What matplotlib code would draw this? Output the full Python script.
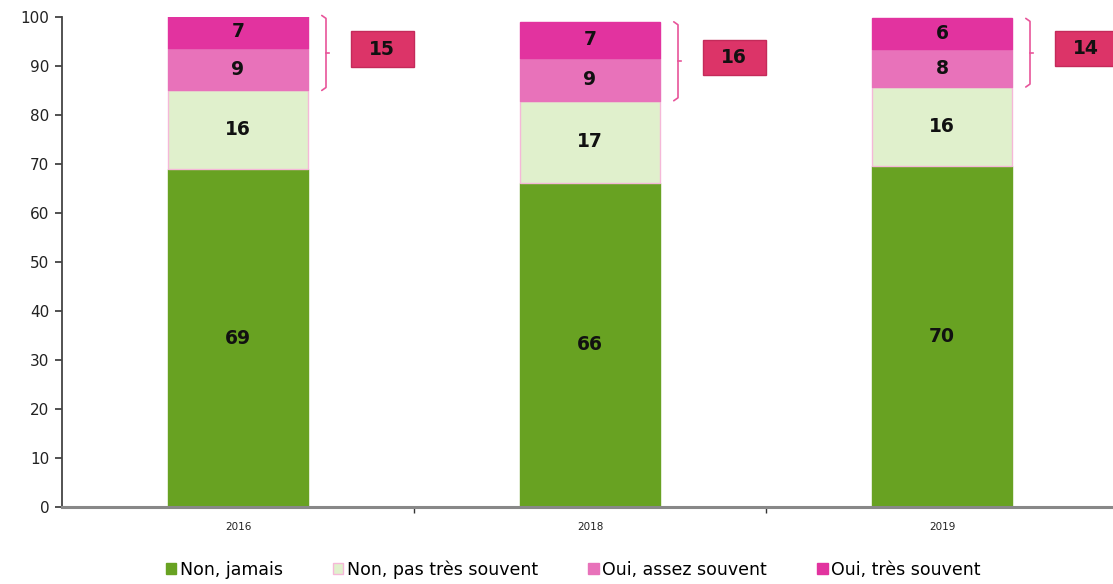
import matplotlib
matplotlib.use("Agg")
import matplotlib.pyplot as plt
from matplotlib.patches import Rectangle

years = ["2016", "2018", "2019"]
series_names = ["Non, jamais", "Non, pas très souvent", "Oui, assez souvent", "Oui, très souvent"]
non_jamais = [68.9, 66.1, 69.6]
non_pas_tres = [16.1, 16.8, 16.1]
oui_assez = [8.7, 8.7, 7.7]
oui_tres = [6.6, 7.4, 6.3]
labels_jamais = [69, 66, 70]
labels_pas_tres = [16, 17, 16]
labels_assez = [9, 9, 8]
labels_tres = [7, 7, 6]
oui_totals = [15, 16, 14]

colors = ["#68a222", "#e0f0cc", "#e872ba", "#e2339f"]
box_color = "#dc3468"

fig = plt.figure(figsize=(11.13, 5.84), dpi=100)
ax = fig.add_axes([0.0557, 0.132, 0.9488, 0.839])

x = list(range(len(years)))
w = 0.40
series = [non_jamais, non_pas_tres, oui_assez, oui_tres]
labs = [labels_jamais, labels_pas_tres, labels_assez, labels_tres]
bottoms = [0.0] * len(years)
handles = []
for s, vals, lab, col in zip(series_names, series, labs, colors):
    ec = "#f5b8d8" if col == "#e0f0cc" else col
    b = ax.bar(x, vals, w, bottom=bottoms, color=col, edgecolor=ec, linewidth=1.0, label=s, zorder=2)
    handles.append(b)
    for xi, v, bt, l in zip(x, vals, bottoms, lab):
        ax.text(xi, bt + v / 2, str(l), ha="center", va="center", fontsize=13.5,
                fontweight="bold", color="#111111", zorder=3)
    bottoms = [bt + v for bt, v in zip(bottoms, vals)]

# brackets and total boxes
for xi in x:
    lo = non_jamais[xi] + non_pas_tres[xi]
    hi = lo + oui_assez[xi] + oui_tres[xi]
    bx = xi + 0.25
    ax.plot([bx - 0.012, bx, bx, bx - 0.012], [hi, hi - 0.6, lo + 0.6, lo],
            color="#e8559a", lw=1.2, zorder=3, clip_on=False, solid_capstyle="round")
    mid = (lo + hi) / 2
    ax.plot([bx, bx + 0.008], [mid, mid], color="#e8559a", lw=1.2, zorder=3, clip_on=False)
    cx = xi + 0.41
    bw, bh = 0.18, 7.2
    ax.add_patch(Rectangle((cx - bw / 2, mid + 0.8 - bh / 2), bw, bh, facecolor=box_color,
                           edgecolor="#c42a5a", lw=1, zorder=3, clip_on=False))
    ax.text(cx, mid + 0.8, str(oui_totals[xi]), ha="center", va="center", fontsize=13.5,
            fontweight="bold", color="#111111", zorder=4, clip_on=False)

ax.set_xlim(-0.5, len(years) - 0.5)
ax.set_ylim(0, 100)
ax.set_yticks(range(0, 101, 10))
ax.tick_params(axis="y", labelsize=11, length=5, width=1.2, color="#333333", labelcolor="#222222", pad=4)
ax.set_xticks([0.5, 1.5], minor=False)
ax.set_xticklabels([])
ax.tick_params(axis="x", length=4, width=1, color="#333333", direction="out")
for xi, yl in zip(x, years):
    ax.text(xi, -4.0, yl, ha="center", va="center", fontsize=7.5, color="#222222")
for sp in ["top", "right"]:
    ax.spines[sp].set_visible(False)
ax.spines["left"].set_color("#444444")
ax.spines["left"].set_linewidth(1.3)
ax.spines["bottom"].set_color("#888888")
ax.spines["bottom"].set_linewidth(2.2)

fig.legend(handles, series_names, loc="center", bbox_to_anchor=(0.515, 0.025), ncol=4,
           frameon=False, fontsize=12.5, handlelength=0.6, handleheight=0.6,
           handletextpad=0.2, columnspacing=2.9)

fig.savefig("out.png", dpi=100)
